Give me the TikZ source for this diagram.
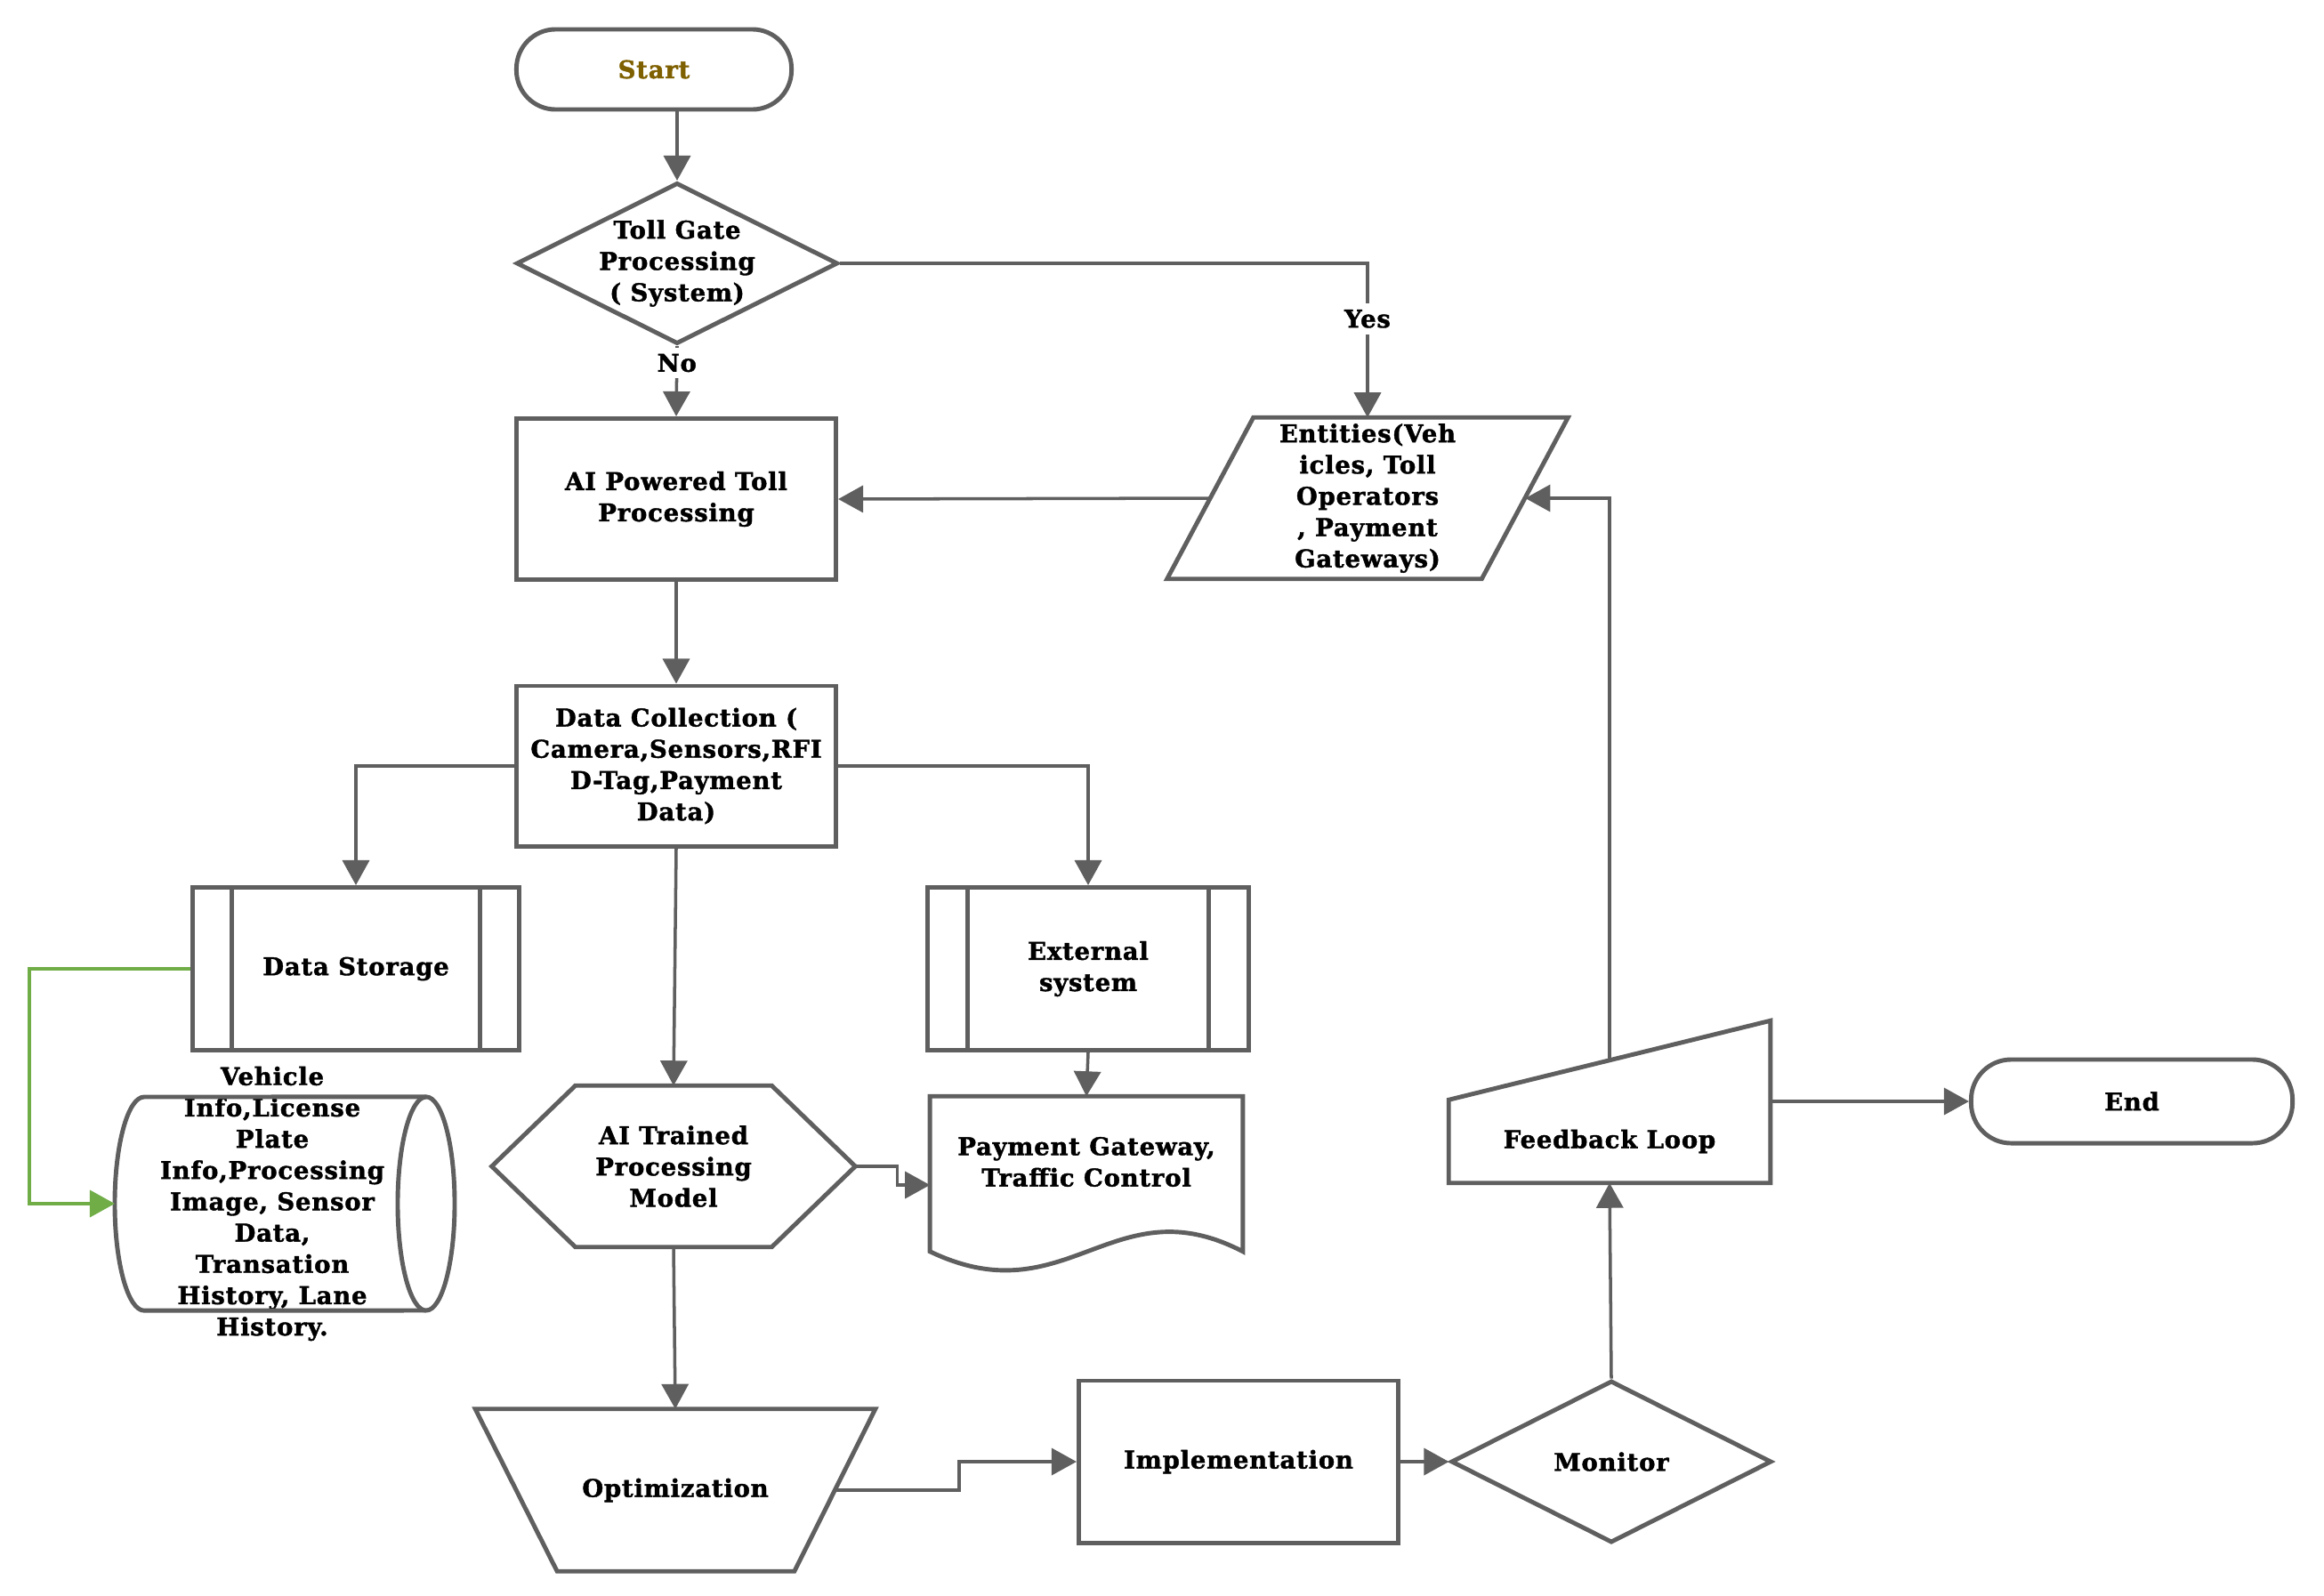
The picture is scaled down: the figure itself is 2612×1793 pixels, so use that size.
\documentclass[tikz,border=0pt]{standalone}
\usepackage{fontspec}
\setmainfont{DejaVu Serif}[BoldFeatures={FakeBold=1.5,LetterSpace=3}]
\usetikzlibrary{arrows.meta,shapes.geometric,calc}
\definecolor{linegray}{RGB}{95,95,95}
\definecolor{startgold}{RGB}{127,96,0}
\definecolor{loopgreen}{RGB}{112,173,71}
\tikzset{
  txt/.style={font=\bfseries\fontsize{7.8}{10}\selectfont, align=center, inner sep=0pt, text=black},
  shp/.style={draw=linegray, line width=1.4pt},
  box/.style={txt, shp, rectangle, minimum width=3.59cm, minimum height=1.81cm},
  arr/.style={line width=1pt, color=linegray, -{Triangle[length=0.28cm,width=0.3cm]}},
  lbl/.style={txt, fill=white, inner sep=2pt},
}
\begin{document}
\begin{tikzpicture}[x=0.01cm,y=-0.01cm]
\path[use as bounding box, fill=white] (0,0) rectangle (2612,1793);

% upper part
\node[box, rounded corners=0.44cm, minimum width=3.09cm, minimum height=0.9cm, text=startgold] (start) at (735,78) {Start};
\node[shp, diamond, inner sep=0pt, minimum width=3.61cm, minimum height=1.81cm,
      label={[txt]center:{Toll Gate\\Processing\\( System)}}] (gate) at (761,296) {};
\node[box] (aipow) at (760,561) {AI Powered Toll\\Processing};
\node[txt, minimum width=4.49cm, minimum height=1.8cm] (ent) at (1537,560) {Entities(Veh\\icles, Toll\\Operators\\, Payment\\Gateways)};
\draw[shp] (ent.south west) -- ($(ent.north west)+(97,0)$) -- (ent.north east) -- ($(ent.south east)+(-97,0)$) -- cycle;
\node[box, minimum height=1.8cm] (collect) at (760,861) {Data Collection (\\Camera,Sensors,RFI\\D-Tag,Payment\\Data)};

% middle part
\node[box, minimum width=3.67cm, minimum height=1.83cm] (storage) at (400,1089) {Data Storage};
\draw[shp] ($(storage.north west)+(47,0)$) -- ($(storage.south west)+(47,0)$)
           ($(storage.north east)+(-47,0)$) -- ($(storage.south east)+(-47,0)$);
\node[box, minimum width=3.6cm, minimum height=1.83cm] (extsys) at (1223,1089) {External\\system};
\draw[shp] ($(extsys.north west)+(47,0)$) -- ($(extsys.south west)+(47,0)$)
           ($(extsys.north east)+(-47,0)$) -- ($(extsys.south east)+(-47,0)$);
\node[txt] (veh) at (306,1353) {Vehicle\\Info,License\\Plate\\Info,Processing\\Image, Sensor\\Data,\\Transation\\History, Lane\\History.};
\draw[shp] ($(veh.center)+(-144,-120)$) arc[start angle=90,end angle=270,x radius=0.33cm,y radius=1.2cm]
           -- ($(veh.center)+(173,120)$) arc[start angle=-90,end angle=90,x radius=0.32cm,y radius=1.2cm] -- cycle;
\draw[shp] ($(veh.center)+(173,-120)$) arc[start angle=90,end angle=270,x radius=0.32cm,y radius=1.2cm];
\node[txt, minimum width=4.07cm, minimum height=1.8cm] (model) at (757,1311) {AI Trained\\Processing\\Model};
\draw[shp] (model.west) -- ($(model.north west)+(94,0)$) -- ($(model.north east)+(-94,0)$) -- (model.east)
           -- ($(model.south east)+(-94,0)$) -- ($(model.south west)+(94,0)$) -- cycle;
\node[txt, minimum width=3.5cm, minimum height=1.46cm] (doc) at (1221,1306) {Payment Gateway,\\Traffic Control};
\draw[shp] (doc.north west) -- (doc.north east) -- ($(doc.south east)+(0,27)$)
           .. controls ($(doc.south east)+(-146,-49)$) and ($(doc.south west)+(154,101)$) .. ($(doc.south west)+(0,27)$) -- cycle;

% lower part
\node[txt, minimum width=4.48cm, minimum height=1.81cm] (opt) at (759,1675) {Optimization};
\draw[shp] (opt.north west) -- (opt.north east) -- ($(opt.south east)+(-91,0)$) -- ($(opt.south west)+(92,0)$) -- cycle;
\node[box, minimum height=1.82cm] (impl) at (1392,1643) {Implementation};
\node[txt, shp, diamond, minimum width=3.6cm, minimum height=1.82cm] (mon) at (1811,1643) {Monitor};
\node[txt, minimum width=3.6cm, minimum height=0.92cm] (fb) at (1809,1283) {Feedback Loop};
\draw[shp] (fb.south west) -- (fb.north west) -- ($(fb.north east)+(0,-89)$) -- (fb.south east) -- cycle;
\node[box, rounded corners=0.45cm, minimum width=3.61cm, minimum height=0.94cm] (fin) at (2396,1238) {End};

% free ends of connectors
\coordinate (entout) at ($(ent.west)+(48,0)$);
\coordinate (entin) at ($(ent.east)+(-48,0)$);
\coordinate (vehin) at ($(veh.center)+(-177,0)$);
\coordinate (docin) at ($(doc.west)+(0,26)$);
\coordinate (optout) at ($(opt.east)+(-46,0)$);
\coordinate (fbtop) at ($(fb.north)+(0,-45)$);

% connectors
\draw[arr] (gate.north |- start.south) -- (gate.north);
\draw[arr] (gate.south) -- node[lbl, pos=0.24] {No} (aipow.north);
\draw[arr] (gate.east) -| node[lbl, pos=0.68] {Yes} (ent.north);
\draw[arr] (entout) -- (aipow.east);
\draw[arr] (aipow.south) -- (collect.north);
\draw[arr] (collect.west) -| (storage.north);
\draw[arr] (collect.east) -| (extsys.north);
\draw[arr] (collect.south) -- (model.north);
\draw[arr] (extsys.south) -- (doc.north);
\draw[arr, loopgreen] (storage.west) -- ++(-181,0) |- (vehin);
\draw[arr] (model.east) -- ++(47,0) |- (docin);
\draw[arr] (model.south) -- (opt.north);
\draw[arr] (optout) -- ++(140,0) |- (impl.west);
\draw[arr] (impl.east) -- (mon.west);
\draw[arr] (mon.north) -- (fb.south);
\draw[arr] (fbtop) |- (entin);
\draw[arr] (fb.east |- fin.west) -- (fin.west);
\end{tikzpicture}
\end{document}
